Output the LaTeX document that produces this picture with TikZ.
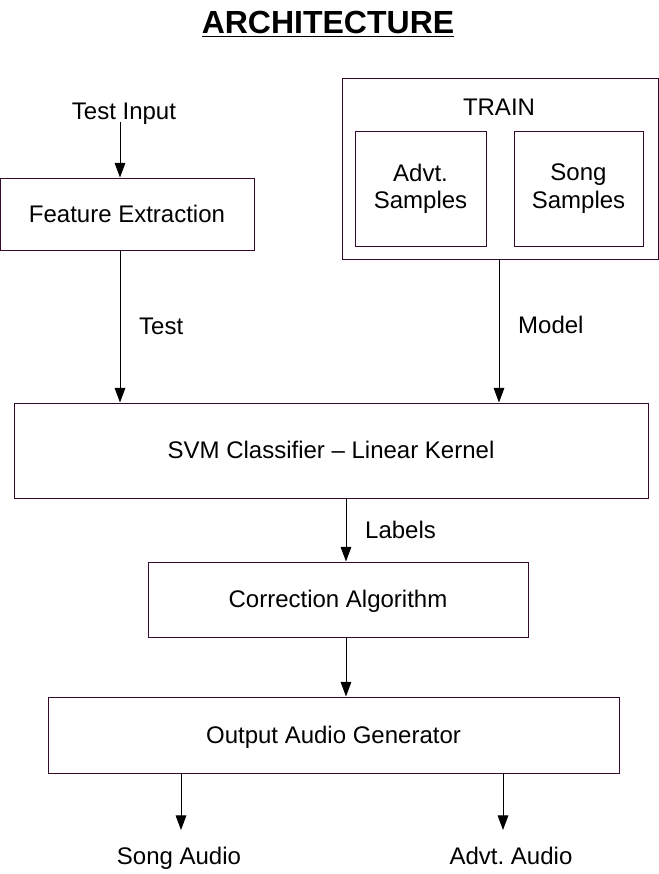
\documentclass[tikz,border=0pt]{standalone}
\usepackage{fontspec}
\setmainfont{Liberation Sans}
\usepackage{xcolor}
\definecolor{boxline}{RGB}{52,10,45}
\usetikzlibrary{arrows.meta,positioning}

\begin{document}
\begin{tikzpicture}[x=0.75pt,y=-0.75pt,
  box/.style={draw=boxline,line width=0.75pt,font=\fontsize{18}{20.5}\selectfont,align=center,inner sep=0pt},
  onerow/.style={text height=12pt,text depth=0pt},
  lbl/.style={font=\fontsize{18}{20.5}\selectfont,inner sep=2pt,text height=12pt,text depth=0pt},
  arr/.style={-{Triangle[length=11pt,width=8pt]},line width=0.75pt,black}]
  \useasboundingbox (0,0) rectangle (659,874);
  % Title
  \node[font=\fontsize{24}{28}\selectfont\bfseries] (title) at (328,24) {\underline{ARCHITECTURE}};
  % Test branch
  \node[lbl] (testin) at (124,111) {Test Input};
  \node[box,onerow,minimum width=190.5pt,minimum height=54pt] (feat) at (127,214) {Feature Extraction};
  \draw[arr] ([xshift=-3pt]testin.south) -- ([xshift=-3pt]testin.south |- feat.north);
  % Training block
  \node[box,minimum width=237pt,minimum height=135pt] (train) at (500,169) {};
  \node[lbl] (traintxt) at (499,107) {TRAIN};
  \node[box,minimum width=98.25pt,minimum height=86.25pt] (advs) at (420.5,188.5) {Advt.\\Samples};
  \node[box,minimum width=96.75pt,minimum height=86.25pt] (songs) at (578.5,188.5) {Song\\Samples};
  % Classifier and after
  \node[box,onerow,minimum width=475.5pt,minimum height=71.25pt] (svm) at (331,450.5) {SVM Classifier -- Linear Kernel};
  \node[box,onerow,minimum width=285pt,minimum height=56.25pt] (corr) at (338,599.5) {Correction Algorithm};
  \node[box,onerow,minimum width=428.25pt,minimum height=57pt] (out) at (333.5,735) {Output Audio Generator};
  \draw[arr] ([xshift=-5.25pt]feat.south) -- ([xshift=-5.25pt]feat.south |- svm.north) node[lbl,midway,right=12pt] (testlbl) {Test};
  \draw[arr] ([xshift=-0.75pt]train.south) -- ([xshift=-0.75pt]train.south |- svm.north) node[lbl,pos=0.465,right=12pt] (modellbl) {Model};
  \draw[arr] ([xshift=6pt]corr.north |- svm.south) -- ([xshift=6pt]corr.north) node[lbl,midway,right=12pt] (labellbl) {Labels};
  \draw[arr] ([xshift=6pt]corr.south) -- ([xshift=6pt]corr.south |- out.north);
  % Outputs
  \node[lbl] (songout) at (179,856) {Song Audio};
  \node[lbl] (advout) at (511,856) {Advt.\ Audio};
  \coordinate (songend) at (181,830);
  \coordinate (advend) at (503,830);
  \draw[arr] (out.south -| songend) -- (songend);
  \draw[arr] (out.south -| advend) -- (advend);
\end{tikzpicture}
\end{document}
